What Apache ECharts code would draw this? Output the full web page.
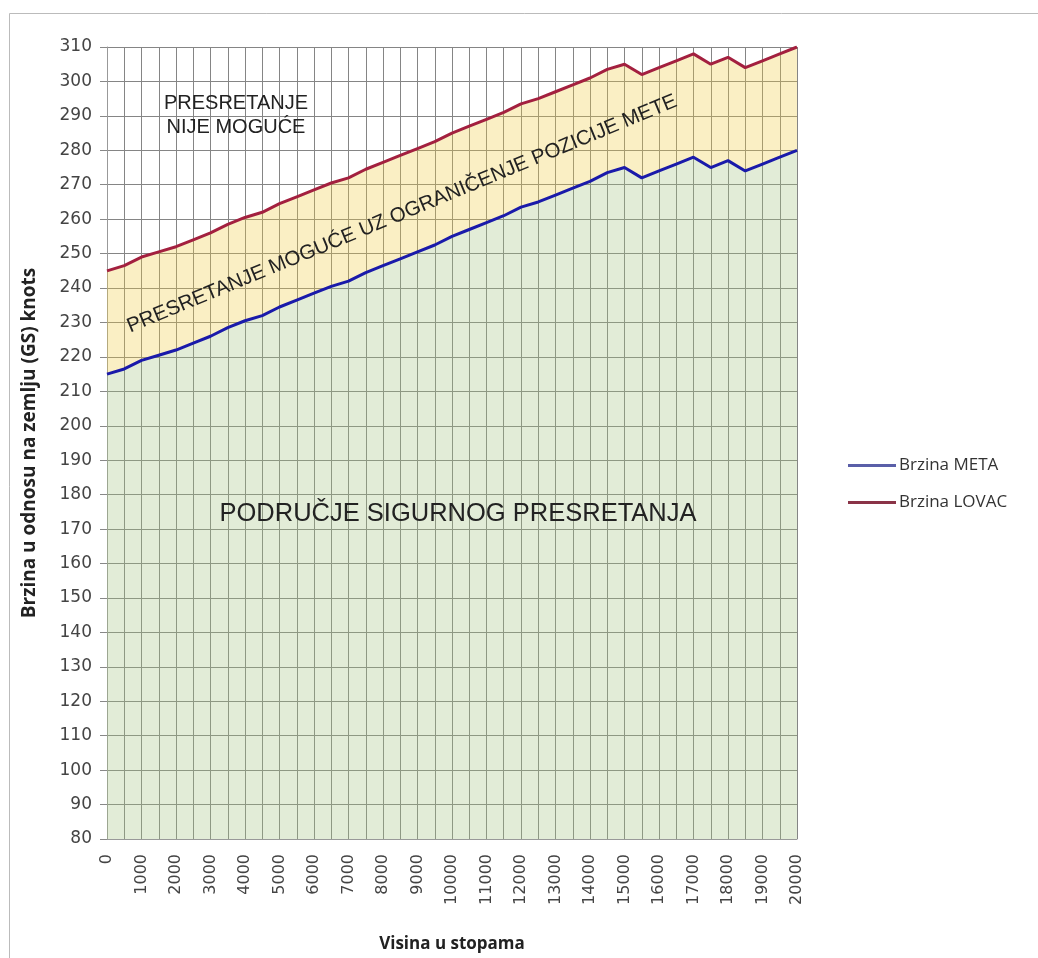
<!DOCTYPE html>
<html>
<head>
<meta charset="utf-8">
<script src="https://cdn.jsdelivr.net/npm/echarts@6/dist/echarts.min.js"></script>
<style>html,body{margin:0;padding:0;background:#fff;}#c{width:1038px;height:958px;}</style>
</head>
<body>
<div id="c"></div>
<script>
var altitudes = ['0','500','1000','1500','2000','2500','3000','3500','4000','4500','5000','5500','6000','6500','7000','7500','8000','8500','9000','9500','10000','10500','11000','11500','12000','12500','13000','13500','14000','14500','15000','15500','16000','16500','17000','17500','18000','18500','19000','19500','20000'];
var brzinaMeta = [215,216.5,219,220.5,222,224,226,228.5,230.5,232,234.5,236.5,238.5,240.5,242,244.5,246.5,248.5,250.5,252.5,255,257,259,261,263.5,265,267,269,271,273.5,275,272,274,276,278,275,277,274,276,278,280];
var brzinaLovac = [245,246.5,249,250.5,252,254,256,258.5,260.5,262,264.5,266.5,268.5,270.5,272,274.5,276.5,278.5,280.5,282.5,285,287,289,291,293.5,295,297,299,301,303.5,305,302,304,306,308,305,307,304,306,308,310];
var yMin = 80, yMax = 310, yStep = 10;

var bandWidth = brzinaLovac.map(function (v, i) { return v - brzinaMeta[i]; });

var chart = echarts.init(document.getElementById('c'));
chart.setOption({
  animation: false,
  backgroundColor: '#fff',
  grid: {left: 107, top: 47, right: 241, bottom: 119, containLabel: false},
  legend: {
    orient: 'vertical', left: 843, top: 452, itemWidth: 48, itemHeight: 3, itemGap: 20,
    icon: 'rect',
    textStyle: {fontFamily: 'Open Sans', fontSize: 17, color: '#333', padding: [0, 0, 0, -2]},
    data: [{name: 'Brzina META', itemStyle: {color: '#5a5fa8'}}, {name: 'Brzina LOVAC', itemStyle: {color: '#8a3347'}}]
  },
  xAxis: {
    type: 'category', data: altitudes, boundaryGap: false,
    name: 'Visina u stopama', nameLocation: 'middle', nameGap: 97,
    nameTextStyle: {fontFamily: 'Open Sans', fontWeight: 'bold', fontSize: 17, color: '#222'},
    axisLine: {show: true, lineStyle: {color: '#999'}},
    axisTick: {show: false},
    axisLabel: {interval: 1, rotate: 90, fontFamily: 'DejaVu Sans', fontSize: 16, color: '#444', margin: 15},
    splitLine: {show: true, interval: 0, lineStyle: {color: '#858585', width: 1}}
  },
  yAxis: {
    type: 'value', min: yMin, max: yMax, interval: yStep,
    name: 'Brzina u odnosu na zemlju (GS) knots', nameLocation: 'middle', nameGap: 68,
    nameTextStyle: {fontFamily: 'Open Sans', fontWeight: 'bold', fontSize: 19, color: '#222'},
    axisLine: {show: true, lineStyle: {color: '#999'}},
    axisTick: {show: true, length: 7, lineStyle: {color: '#888'}},
    axisLabel: {fontFamily: 'DejaVu Sans', fontSize: 17, color: '#444', margin: 15},
    splitLine: {show: true, lineStyle: {color: '#858585', width: 1}}
  },
  series: [
    {
      name: 'base', type: 'line', data: brzinaMeta, stack: 'band', symbol: 'none', silent: true, z: 1,
      lineStyle: {opacity: 0}
    },
    {
      name: 'band', type: 'line', data: bandWidth, stack: 'band', symbol: 'none', silent: true, z: 1,
      lineStyle: {opacity: 0},
      areaStyle: {color: 'rgba(240,205,70,0.45)'}
    },
    {
      name: 'Brzina META', type: 'line', data: brzinaMeta, symbol: 'none', z: 3,
      lineStyle: {color: '#1a1aaa', width: 3},
      itemStyle: {color: '#1a1aaa'},
      areaStyle: {color: 'rgba(164,195,129,0.45)', origin: 'start'}
    },
    {
      name: 'Brzina LOVAC', type: 'line', data: brzinaLovac, symbol: 'none', z: 3,
      lineStyle: {color: '#a3203f', width: 3},
      itemStyle: {color: '#a3203f'}
    }
  ],
  graphic: [
    {type: 'rect', shape: {x: 9.5, y: 13.5, width: 1040, height: 960}, style: {fill: 'none', stroke: '#bbb', lineWidth: 1}, silent: true, z: -10},
    {type: 'text', x: 236, y: 115, z: 100, style: {text: 'PRESRETANJE\nNIJE MOGUĆE', fontFamily: 'Liberation Sans', fontSize: 20, fill: '#222', align: 'center', verticalAlign: 'middle', lineHeight: 24}},
    {type: 'text', x: 402, y: 214, rotation: 22.5 * Math.PI / 180, z: 100, style: {text: 'PRESRETANJE MOGUĆE UZ OGRANIČENJE POZICIJE METE', fontFamily: 'Liberation Sans', fontSize: 20.5, fill: '#222', align: 'center', verticalAlign: 'middle'}},
    {type: 'text', x: 458, y: 514, z: 100, style: {text: 'PODRUČJE SIGURNOG PRESRETANJA', fontFamily: 'Liberation Sans', fontSize: 25.5, fill: '#222', align: 'center', verticalAlign: 'middle'}}
  ]
});
</script>
</body>
</html>
